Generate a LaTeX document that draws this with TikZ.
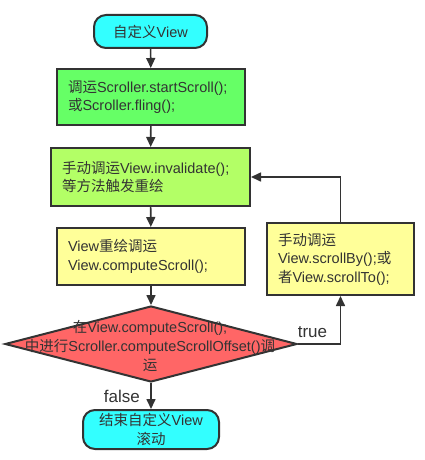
\documentclass[tikz,border=0pt]{standalone}
\usepackage{fontspec}
\setmainfont{Liberation Sans}
\newfontfamily\cjk{Noto Sans CJK SC}
\usetikzlibrary{shapes.geometric,arrows.meta}
\definecolor{linegray}{HTML}{333333}
\definecolor{termcyan}{HTML}{33FFFF}
\definecolor{callgreen}{HTML}{66FF66}
\definecolor{lightgreen}{HTML}{B3FF66}
\definecolor{paleyellow}{HTML}{FFFF99}
\definecolor{checkred}{HTML}{FF6666}
\newcommand{\zh}[1]{{\cjk #1}}

\begin{document}
\begin{tikzpicture}[x=1pt, y=-1pt, font=\fontsize{14.5}{18.5}\selectfont, text=linegray,
		box/.style={draw=linegray, line width=2pt, align=left, inner xsep=11pt, inner ysep=0pt},
		term/.style={draw=linegray, line width=2pt, rounded corners=12pt, fill=termcyan, align=center, inner sep=0pt},
		flow/.style={draw=linegray, line width=1.6pt, -{Triangle[length=10pt,width=9pt]}},
		branch/.style={font=\fontsize{17}{20}\selectfont}]
		\useasboundingbox (0,0) rectangle (425,460);
		\node[term, minimum width=113pt, minimum height=33pt] (start) at (150.5,31.5){\zh{自定义}View};
		\node[box, fill=callgreen, text width=166pt, minimum height=56pt] (callscroll) at (151,97){\zh{调运}Scroller.startScroll();\\\zh{或}Scroller.fling();};
		\node[box, fill=lightgreen, text width=177pt, minimum height=58pt] (invalidate) at (150.5,177){\zh{手动调运}View.invalidate();\\\zh{等方法触发重绘}};
		\node[box, fill=paleyellow, text width=166pt, minimum height=57pt] (compute) at (151,256.5){View\zh{重绘调运}\\View.computeScroll();};
		\node[box, fill=paleyellow, text width=125pt, minimum height=72pt] (manual) at (340.5,259){\zh{手动调运}\\View.scrollBy();\zh{或}\\\zh{者}View.scrollTo();};
		\node[diamond, draw=linegray, line width=2pt, fill=checkred, minimum width=292pt, minimum height=76pt, inner sep=0pt] (check) at (151,344){};
		\node[align=center, inner sep=0pt, font=\fontsize{14.5}{19}\selectfont] (checktext) at (150,346){\zh{在}View.computeScroll();\\\zh{中进行}Scroller.computeScrollOffset()\zh{调}\\\zh{运}};
		\node[term, minimum width=136pt, minimum height=39pt] (finish) at (151,429.5){\zh{结束自定义}View\\\zh{滚动}};
		\draw[flow] (start) -- (callscroll);
		\draw[flow] (callscroll) -- (invalidate);
		\draw[flow] (invalidate) -- (compute);
		\draw[flow] (compute) -- (check);
		\draw[flow] (check) -- node[branch, left, xshift=-7pt]{false} (finish);
		\draw[flow] (check.east) -| node[branch, above, pos=0.17, yshift=2pt]{true} (manual.south);
		\draw[flow] (manual.north) |- (invalidate.east);
	\end{tikzpicture}
\end{document}
